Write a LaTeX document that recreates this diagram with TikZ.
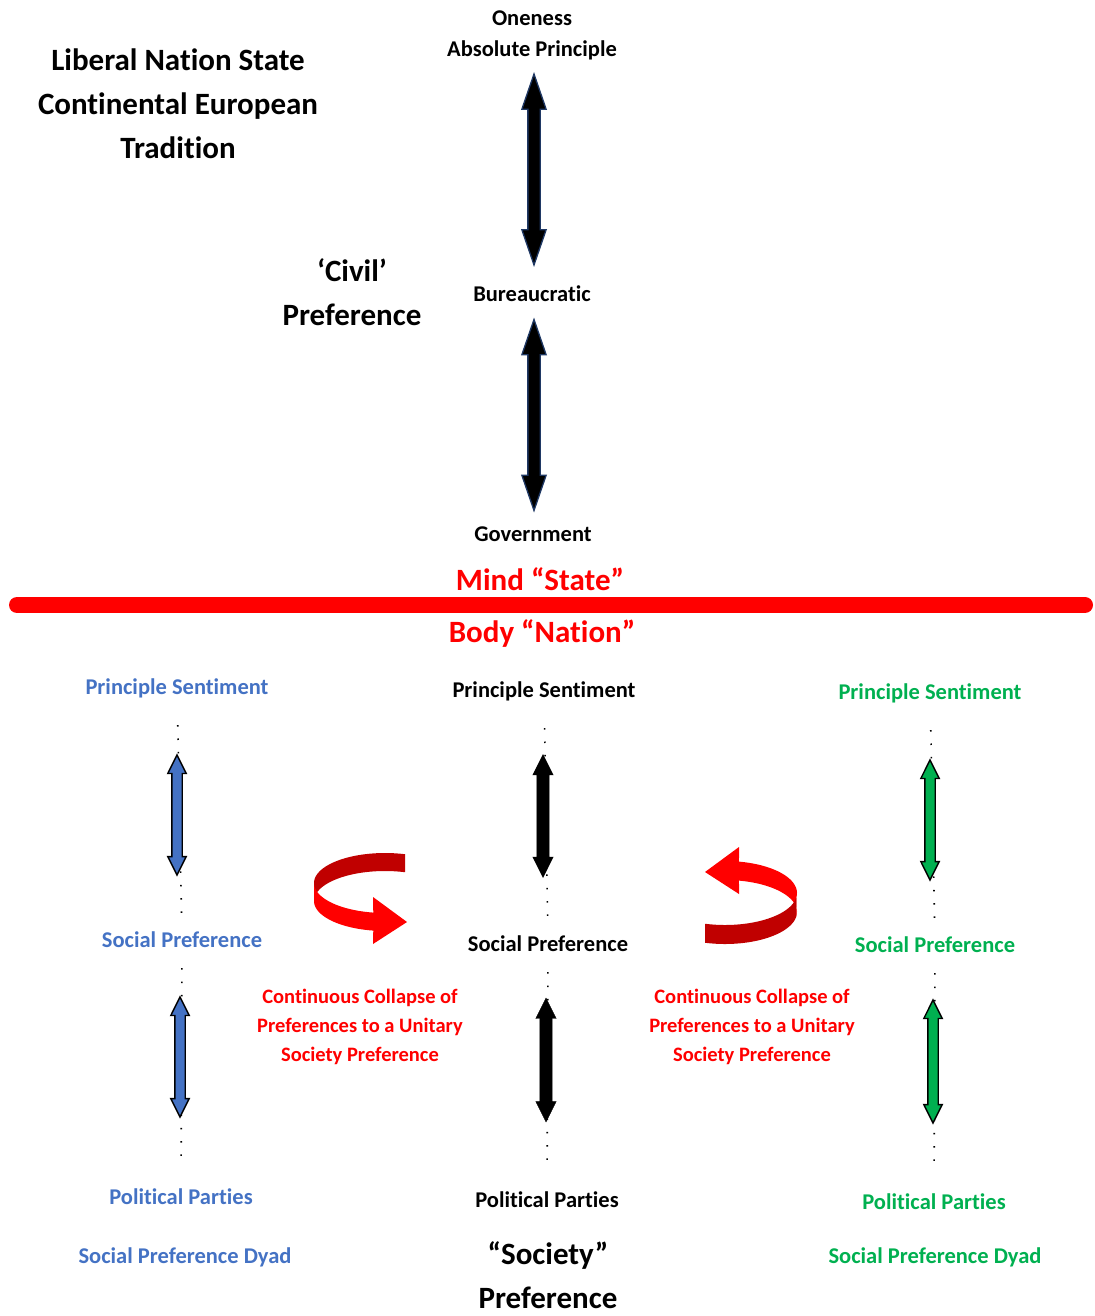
\documentclass[tikz,border=0pt]{standalone}
\usepackage{fontspec}
\setmainfont{Carlito}[Ligatures=NoCommon]
\usepackage{xcolor}
\usepackage{tikz}
\usetikzlibrary{shapes.arrows}
\definecolor{prefblue}{HTML}{4472C4}
\definecolor{prefgreen}{HTML}{00B050}
\definecolor{collapse}{HTML}{FF0000}
\definecolor{collapsedark}{HTML}{C00000}
\definecolor{statenavy}{HTML}{1F3864}

\begin{document}
\begin{tikzpicture}[x=1pt,y=-1pt]
        \tikzstyle{every node}+=[inner sep=2pt, align=center]
        \tikzstyle{small}=[font=\fontsize{22.5}{31}\selectfont\bfseries, text height=19pt, text depth=3pt]
        \tikzstyle{large}=[font=\fontsize{31}{44}\selectfont\bfseries]
        \tikzstyle{note}=[font=\fontsize{20.5}{29}\selectfont\bfseries, text=collapse]
        \tikzstyle{fat}=[double arrow, rotate=90, inner xsep=0pt, inner ysep=4.5pt, double arrow tip angle=53, double arrow head extend=4pt, draw=black, line width=1.4pt]
        \tikzstyle{statearrow}=[fill=black, draw=statenavy, line width=1.3pt, inner ysep=5.5pt, double arrow head extend=6pt, double arrow tip angle=38, minimum height=191pt]
        \tikzstyle{dots}=[line width=1.6pt, dash pattern=on 1.5pt off 11.8pt]
        \tikzstyle{upper}=[dots, shorten <=26pt, shorten >=12pt]
        \tikzstyle{lower}=[dots, shorten <=16pt, shorten >=26pt]
        \useasboundingbox (0,0) rectangle (1094,1316);
        % mind: state
        \node[large] (title) at (178,104) {Liberal Nation State\\Continental European\\Tradition};
        \node[large] (civil) at (352,292) {‘Civil’\\Preference};
        \node[small] (one) at (532,18) {Oneness};
        \node[small] (abs) at (532,49) {Absolute Principle};
        \node[small] (bur) at (532,293) {Bureaucratic};
        \node[small] (gov) at (533,533) {Government};
        \node[fat, statearrow] (sa1) at (534,169.5) {};
        \node[fat, statearrow] (sa2) at (534,415) {};
        \node[large, text=collapse] (mind) at (540,579) {Mind “State”};
        \coordinate (divl) at (17,605);
        \coordinate (divr) at (1085,605);
        \draw[collapse, line width=16pt, line cap=round] (divl) -- (divr);
        \node[large, text=collapse] (body) at (542,633) {Body “Nation”};
        % body: nation, blue dyad
        \node[small, text=prefblue] (bps) at (177,686) {Principle Sentiment};
        \node[small, text=prefblue] (bsp) at (182,939) {Social Preference};
        \node[small, text=prefblue] (bpp) at (181,1196) {Political Parties};
        \node[small, text=prefblue] (bdy) at (185,1255) {Social Preference Dyad};
        \draw[upper] (bps) -- (bsp);
        \draw[lower] (bsp) -- (bpp);
        \node[fat, fill=prefblue, minimum height=120pt] (ba1) at (177,815) {};
        \node[fat, fill=prefblue, minimum height=120pt] (ba2) at (180,1057) {};
        % society
        \node[small] (sps) at (544,689) {Principle Sentiment};
        \node[small] (ssp) at (548,943) {Social Preference};
        \node[small] (spp) at (547,1199) {Political Parties};
        \node[large] (soc) at (548,1275) {“Society”\\Preference};
        \draw[upper] (sps) -- (ssp);
        \draw[lower] (ssp) -- (spp);
        \node[fat, fill=black, line width=0.4pt, inner ysep=6pt, minimum height=123pt] (sa3) at (543,816) {};
        \node[fat, fill=black, line width=0.4pt, inner ysep=6pt, minimum height=124pt] (sa4) at (546,1060) {};
        % green dyad
        \node[small, text=prefgreen] (gps) at (930,691) {Principle Sentiment};
        \node[small, text=prefgreen] (gsp) at (935,944) {Social Preference};
        \node[small, text=prefgreen] (gpp) at (934,1201) {Political Parties};
        \node[small, text=prefgreen] (gdy) at (935,1255) {Social Preference Dyad};
        \draw[upper] (gps) -- (gsp);
        \draw[lower] (gsp) -- (gpp);
        \node[fat, fill=prefgreen, minimum height=120pt] (ga1) at (930,820) {};
        \node[fat, fill=prefgreen, minimum height=123pt] (ga2) at (933,1061.5) {};
        % collapse
        \node[note] (coll) at (360,1027) {Continuous Collapse of\\Preferences to a Unitary\\Society Preference};
        \node[note] (colr) at (752,1027) {Continuous Collapse of\\Preferences to a Unitary\\Society Preference};
        \fill[collapsedark] plot[domain=73.6:180, samples=40, variable=\t] ({385+71*cos(\t)}, {883-30*sin(\t)})
          -- plot[domain=180:73.6, samples=40, variable=\t] ({385+71*cos(\t)}, {901-30*sin(\t)}) -- cycle;
        \fill[collapse] plot[domain=180:260.5, samples=40, variable=\t] ({385+71*cos(\t)}, {883-30*sin(\t)})
          -- (373,897) -- (407,922) -- (373,944)
          -- plot[domain=260.5:180, samples=40, variable=\t] ({385+71*cos(\t)}, {901-30*sin(\t)}) -- cycle;
        \fill[collapse] plot[domain=78.8:-8, samples=40, variable=\t] ({725+72*cos(\t)}, {893-32*sin(\t)})
          -- plot[domain=-8:78.8, samples=40, variable=\t] ({725+72*cos(\t)}, {912-32*sin(\t)})
          -- (739,894) -- (705,872) -- (739,847) -- cycle;
        \fill[collapsedark] plot[domain=-8:-106.1, samples=40, variable=\t] ({725+72*cos(\t)}, {893-32*sin(\t)})
          -- plot[domain=-106.1:-8, samples=40, variable=\t] ({725+72*cos(\t)}, {912-32*sin(\t)}) -- cycle;
\end{tikzpicture}
\end{document}
